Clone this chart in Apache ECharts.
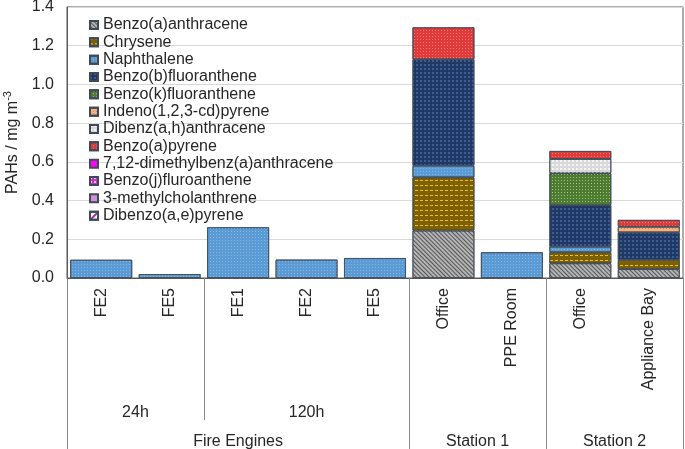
<!DOCTYPE html>
<html>
<head>
<meta charset="utf-8">
<script src="https://cdn.jsdelivr.net/npm/echarts@6/dist/echarts.min.js"></script>
<style>
html,body{margin:0;padding:0;background:#fff;}
#c{width:685px;height:449px;}
</style>
</head>
<body>
<div id="c"></div>
<script>
// ---- data ----
var categories = ['FE2', 'FE5', 'FE1', 'FE2', 'FE5', 'Office', 'PPE Room', 'Office', 'Appliance Bay'];
var subGroups = [['24h', 2], ['120h', 3]];           // label, number of categories
var groups = [['Fire Engines', 5], ['Station 1', 2], ['Station 2', 2]];
var yTicks = [0, 0.2, 0.4, 0.6, 0.8, 1.0, 1.2, 1.4];

var seriesNames = ['Benzo(a)anthracene', 'Chrysene', 'Naphthalene', 'Benzo(b)fluoranthene',
  'Benzo(k)fluoranthene', 'Indeno(1,2,3-cd)pyrene', 'Dibenz(a,h)anthracene', 'Benzo(a)pyrene',
  '7,12-dimethylbenz(a)anthracene', 'Benzo(j)fluroanthene', '3-methylcholanthrene', 'Dibenzo(a,e)pyrene'];

var benzoAAnthracene = [null, null, null, null, null, 0.245, null, 0.076, 0.046];
var chrysene         = [null, null, null, null, null, 0.275, null, 0.057, 0.047];
var naphthalene      = [0.094, 0.020, 0.262, 0.095, 0.103, 0.060, 0.133, 0.029, null];
var benzoBFluor      = [null, null, null, null, null, 0.550, null, 0.215, 0.143];
var benzoKFluor      = [null, null, null, null, null, null, null, 0.164, null];
var indenoPyrene     = [null, null, null, null, null, null, null, null, 0.029];
var dibenzAH         = [null, null, null, null, null, null, null, 0.074, null];
var benzoAPyrene     = [null, null, null, null, null, 0.165, null, 0.041, 0.035];
var dmba             = [null, null, null, null, null, null, null, null, null];
var benzoJFluor      = [null, null, null, null, null, null, null, null, null];
var methylchol       = [null, null, null, null, null, null, null, null, null];
var dibenzoAE        = [null, null, null, null, null, null, null, null, null];

var seriesValues = [benzoAAnthracene, chrysene, naphthalene, benzoBFluor, benzoKFluor, indenoPyrene,
  dibenzAH, benzoAPyrene, dmba, benzoJFluor, methylchol, dibenzoAE];

// ---- styles ----
var styles = [
  {color: '#b4b4b4', decal: {symbol: 'rect', symbolSize: 1, color: '#555555', dashArrayX: [1, 0], dashArrayY: [1, 1.6], rotation: Math.PI / 4}},
  {color: '#7f6000', decal: {symbol: 'rect', symbolSize: 1, color: '#e8c22a', dashArrayX: [3, 2], dashArrayY: [1, 4]}},
  {color: '#5b9bd5', decal: {symbol: 'rect', symbolSize: 1, color: 'rgba(255,255,255,0.28)', dashArrayX: [1, 2], dashArrayY: [1, 2]}},
  {color: '#1f3864', decal: {symbol: 'diamond', symbolSize: 1, color: '#5a80c8', dashArrayX: [2, 2], dashArrayY: [2, 2]}},
  {color: '#4f7a32', decal: {symbol: 'rect', symbolSize: 1, color: '#9cc77c', dashArrayX: [1, 2], dashArrayY: [1, 2]}},
  {color: '#f4b183', decal: {symbol: 'rect', symbolSize: 1, color: '#d9823f', dashArrayX: [1, 2], dashArrayY: [1, 2]}},
  {color: '#d9d9d9', decal: {symbol: 'rect', symbolSize: 1, color: '#f4f4f4', dashArrayX: [2, 2], dashArrayY: [2, 2]}},
  {color: '#e03a3a', decal: {symbol: 'rect', symbolSize: 1, color: '#ef7a7a', dashArrayX: [1, 2], dashArrayY: [1, 2]}},
  {color: '#ff00ff'},
  {color: '#cc33cc', decal: {symbol: 'rect', symbolSize: 1, color: '#f3b8f3', dashArrayX: [2, 2], dashArrayY: [2, 2]}},
  {color: '#d68fd6'},
  {color: '#ffffff', decal: {symbol: 'rect', symbolSize: 1, color: '#b01fb0', dashArrayX: [1, 0], dashArrayY: [2, 3], rotation: -Math.PI / 4}}
];

var FONT = 'Arial, "Liberation Sans", sans-serif';
var TXT = '#262626';

// boundaries and centres from spans
function spans(list) {
  var b = [0], c = [], acc = 0;
  list.forEach(function (g) { c.push(acc + g[1] / 2); acc += g[1]; b.push(acc); });
  return {b: b, c: c};
}
var sg = spans(subGroups), g = spans(groups);
var subInner = sg.b.slice(1, -1).filter(function (v) { return g.b.indexOf(v) < 0; });

var series = seriesNames.map(function (n, i) {
  return {
    name: n, type: 'bar', stack: 'total', xAxisIndex: 0, yAxisIndex: 0,
    barCategoryGap: '9.6%',
    itemStyle: {color: styles[i].color, decal: styles[i].decal || null, borderColor: '#3f4a57', borderWidth: 0.8},
    data: seriesValues[i]
  };
});

var chart = echarts.init(document.getElementById('c'), null, {renderer: 'canvas'});
chart.setOption({
  animation: false,
  backgroundColor: '#fff',
  textStyle: {fontFamily: FONT},
  grid: {left: 67, right: 2, top: 7, bottom: 171, containLabel: false, outerBoundsMode: 'none',
         show: true, borderColor: '#5a5a5a', borderWidth: 1},
  legend: {
    orient: 'vertical', left: 84, top: 12, itemWidth: 8, itemHeight: 8, itemGap: 1.33, icon: 'rect',
    textStyle: {fontFamily: FONT, fontSize: 16, color: TXT, lineHeight: 16},
    data: seriesNames
  },
  xAxis: [
    {
      type: 'category', data: categories, position: 'bottom',
      axisLine: {show: true, lineStyle: {color: '#5a5a5a', width: 1}},
      axisTick: {show: false},
      axisLabel: {rotate: 90, margin: 10, fontSize: 16, color: TXT, fontFamily: FONT, interval: 0},
      splitLine: {show: false}
    },
    {
      type: 'value', min: 0, max: categories.length, position: 'bottom', gridIndex: 0,
      axisLine: {show: false}, splitLine: {show: false},
      axisTick: {show: true, customValues: g.b, length: 180, inside: false, lineStyle: {color: '#8a8a8a', width: 1}},
      axisLabel: {show: true, customValues: g.c, margin: 156, fontSize: 16, color: TXT, fontFamily: FONT,
        formatter: function (v) { var k = g.c.indexOf(v); return k >= 0 ? groups[k][0] : ''; }}
    },
    {
      type: 'value', min: 0, max: categories.length, position: 'bottom', gridIndex: 0,
      axisLine: {show: false}, splitLine: {show: false},
      axisTick: {show: true, customValues: subInner, length: 142, inside: false, lineStyle: {color: '#8a8a8a', width: 1}},
      axisLabel: {show: true, customValues: sg.c, margin: 127, fontSize: 16, color: TXT, fontFamily: FONT,
        formatter: function (v) { var k = sg.c.indexOf(v); return k >= 0 ? subGroups[k][0] : ''; }}
    }
  ],
  yAxis: {
    type: 'value', min: yTicks[0], max: yTicks[yTicks.length - 1], interval: 0.2,
    axisLine: {show: true, lineStyle: {color: '#5a5a5a'}},
    axisTick: {show: false},
    axisLabel: {fontSize: 16, color: TXT, fontFamily: FONT, margin: 13, formatter: function (v) { return v.toFixed(1); }},
    splitLine: {show: true, lineStyle: {color: '#d9d9d9', width: 1}},
    name: '{a|PAHs / mg m}{b|-3}', nameLocation: 'middle', nameGap: 44, nameRotate: 90,
    nameTextStyle: {rich: {
      a: {fontSize: 16, color: TXT, fontFamily: FONT},
      b: {fontSize: 11, color: TXT, fontFamily: FONT, padding: [0, 0, 9, 0]}
    }}
  },
  series: series
});
</script>
</body>
</html>
